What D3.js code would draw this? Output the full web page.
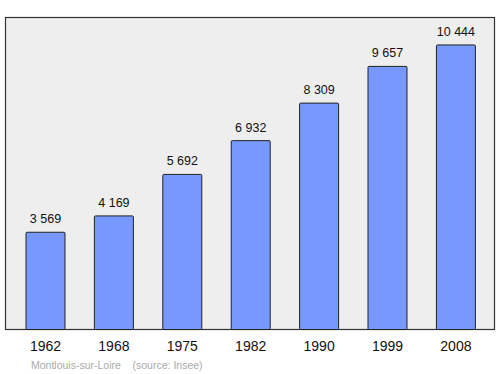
<!DOCTYPE html>
<html><head><meta charset="utf-8">
<script src="https://cdn.jsdelivr.net/npm/d3@7"></script>
<style>body{margin:0;background:#fff}svg{display:block}text{font-family:"Liberation Sans",Arial,sans-serif}</style>
</head><body><div id="c"></div>
<script>
const years = ["1962","1968","1975","1982","1990","1999","2008"];
const population = [3569,4169,5692,6932,8309,9657,10444];
const valueLabels = ["3 569","4 169","5 692","6 932","8 309","9 657","10 444"];
const footer = "Montlouis-sur-Loire    (source: Insee)";

const W=500,H=374;
const svg=d3.select("#c").append("svg").attr("width",W).attr("height",H);
const frame={x0:5.5,y0:17.5,x1:494.5,y1:329.5};
svg.append("rect").attr("x",frame.x0).attr("y",frame.y0).attr("width",frame.x1-frame.x0).attr("height",frame.y1-frame.y0)
  .attr("fill","#eeeeee").attr("stroke","#333").attr("stroke-width",1.2);
const x=d3.scaleBand().domain(years).range([26,475.4]).paddingInner(0.43).paddingOuter(0);
const y=d3.scaleLinear().domain([0,11470]).range([329.5,17]);
const g=svg.append("g");
g.selectAll("rect.bar").data(population).join("rect").attr("class","bar")
  .attr("x",(d,i)=>x(years[i])).attr("y",d=>y(d)).attr("width",x.bandwidth()).attr("height",d=>y(0)-y(d))
  .attr("fill","#7799ff").attr("stroke","#222").attr("stroke-width",1).attr("rx",1);
g.selectAll("text.val").data(population).join("text").attr("class","val")
  .attr("x",(d,i)=>x(years[i])+x.bandwidth()/2).attr("y",d=>y(d)-9)
  .attr("text-anchor","middle").attr("font-size",12.5).attr("fill","#111").text((d,i)=>valueLabels[i]);
const ax=svg.append("g").attr("transform","translate(0,329.5)").call(d3.axisBottom(x).tickSize(0).tickPadding(12));
ax.select(".domain").remove();
ax.selectAll("text").attr("font-size",14).attr("fill","#111").style("font-family","'Liberation Sans',Arial,sans-serif");
svg.append("text").attr("x",31).attr("y",369).attr("font-size",10.5).attr("fill","#aaa").attr("xml:space","preserve").style("white-space","pre").text(footer);
</script></body></html>
